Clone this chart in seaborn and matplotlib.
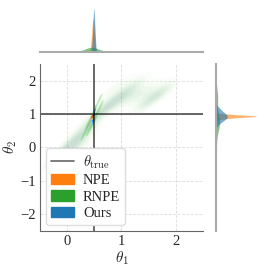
import matplotlib
matplotlib.use("Agg")
import numpy as np
import matplotlib.pyplot as plt
import seaborn as sns
from matplotlib.lines import Line2D
from matplotlib.patches import Patch

# true parameter
theta_true = [0.5, 1.0]

# posterior samples (hand picked)
npe_t1 = [0.44, 0.455, 0.465, 0.475, 0.48, 0.485, 0.49, 0.50, 0.51, 0.47]
npe_t2 = [0.86, 0.89, 0.91, 0.93, 0.94, 0.95, 0.97, 0.99, 0.92, 0.935]

ours_t1 = [0.465, 0.475, 0.483, 0.49, 0.497, 0.503, 0.51, 0.52, 0.487, 0.495]
ours_t2 = [0.74, 0.80, 0.86, 0.92, 0.97, 1.02, 1.08, 1.16, 0.89, 0.95]

rnpe_core_t1 = [0.30, 0.40, 0.37, 0.45, 0.40, 0.48, 0.43, 0.50, 0.46, 0.55, 0.50, 0.62, 0.60, 0.38, 0.49]
rnpe_core_t2 = [0.35, 0.50, 0.58, 0.65, 0.70, 0.75, 0.80, 0.86, 0.90, 1.00, 1.10, 1.25, 1.45, 0.68, 0.78]
rnpe_wide_t1 = [-0.2, 0.0, 0.1, 0.2, 0.3, 0.4, 0.6, 0.8, 1.0, 1.2, 1.4, 1.6, 1.75, 0.9, 1.2, 0.15, 1.5]
rnpe_wide_t2 = [-0.3, -0.1, 0.2, 0.0, 0.4, 0.7, 1.1, 1.3, 1.5, 1.55, 1.6, 1.6, 1.6, 1.8, 1.85, -0.4, 1.35]
rnpe_tail_t2 = [-2.1, -1.5, -0.9, 2.2]

colors = {"NPE": "tab:orange", "RNPE": "tab:green", "Ours": "tab:blue"}

sns.set_style("white")
plt.rcParams["font.family"] = ["Liberation Serif", "DejaVu Serif"]
plt.rcParams["mathtext.fontset"] = "cm"

fig = plt.figure(figsize=(2.66, 2.66), dpi=100)
ax = fig.add_axes([0.15, 0.132, 0.613, 0.628])
ax_top = fig.add_axes([0.15, 0.805, 0.613, 0.17], sharex=ax)
ax_right = fig.add_axes([0.812, 0.132, 0.16, 0.628], sharey=ax)

# joint densities
sns.kdeplot(x=rnpe_wide_t1, y=rnpe_wide_t2, ax=ax, fill=True, cmap="Greens",
            levels=8, thresh=0.12, alpha=0.2, bw_adjust=0.65, antialiased=True)
sns.kdeplot(x=rnpe_core_t1, y=rnpe_core_t2, ax=ax, fill=True, color=colors["RNPE"],
            levels=7, thresh=0.1, alpha=0.4, bw_adjust=0.7, antialiased=True)
sns.kdeplot(x=npe_t1, y=npe_t2, ax=ax, fill=True, color=colors["NPE"],
            levels=5, thresh=0.3, alpha=0.6)
sns.kdeplot(x=ours_t1, y=ours_t2, ax=ax, fill=True, color=colors["Ours"],
            levels=5, thresh=0.15, alpha=0.75)

ax.axvline(theta_true[0], color="black", lw=1.1, alpha=0.75)
ax.axhline(theta_true[1], color="black", lw=1.1, alpha=0.75)

ax.set_xlim(-0.5, 2.5)
ax.set_ylim(-2.5, 2.5)
ax.set_xticks([0, 1, 2])
ax.set_yticks([-2, -1, 0, 1, 2])
ax.grid(True, ls="--", lw=0.6, color="#dddddd")
ax.set_xlabel(r"$\theta_1$", fontsize=11, labelpad=1)
ax.set_ylabel(r"$\theta_2$", fontsize=11, labelpad=1)
ax.tick_params(labelsize=10.5, length=0, pad=3)
for s in ["top", "right"]:
    ax.spines[s].set_visible(False)
for s in ["left", "bottom"]:
    ax.spines[s].set_color("#666666")

# marginals
rnpe_t1 = rnpe_core_t1 + rnpe_core_t1 + rnpe_wide_t1
rnpe_t2 = rnpe_core_t2 + rnpe_core_t2 + rnpe_wide_t2 + rnpe_tail_t2
for name, t1, t2 in [("NPE", npe_t1, npe_t2), ("RNPE", rnpe_t1, rnpe_t2),
                     ("Ours", ours_t1, ours_t2)]:
    bw = 0.45 if name == "RNPE" else 1.0
    sns.kdeplot(x=t1, ax=ax_top, fill=True, color=colors[name], alpha=0.6,
                linewidth=0, bw_adjust=bw)
    sns.kdeplot(y=t2, ax=ax_right, fill=True, color=colors[name], alpha=0.6,
                linewidth=0, bw_adjust=bw)

ax_top.set_ylim(0, None)
ax_top.margins(y=0)
ax_right.set_xlim(0, None)
for a in [ax_top, ax_right]:
    a.set_xlabel("")
    a.set_ylabel("")
    a.tick_params(left=False, bottom=False, labelleft=False, labelbottom=False)
    for s in a.spines.values():
        s.set_visible(False)
ax_top.spines["bottom"].set_visible(True)
ax_top.spines["bottom"].set_color("#aaaaaa")
ax_top.spines["bottom"].set_linewidth(1.5)
ax_right.spines["left"].set_visible(True)
ax_right.spines["left"].set_color("#aaaaaa")
ax_right.spines["left"].set_linewidth(1.5)

handles = [Line2D([0], [0], color="black", alpha=0.6, lw=1.2),
           Patch(color=colors["NPE"]), Patch(color=colors["RNPE"]),
           Patch(color=colors["Ours"])]
labels = [r"$\theta_{\mathrm{true}}$", "NPE", "RNPE", "Ours"]
ax.legend(handles, labels, loc="lower left", fontsize=10.5, handlelength=1.6,
          borderpad=0.35, labelspacing=0.22, handletextpad=0.6, framealpha=1.0,
          edgecolor="#dddddd", borderaxespad=0.4)

fig.savefig("out.png", dpi=100)
